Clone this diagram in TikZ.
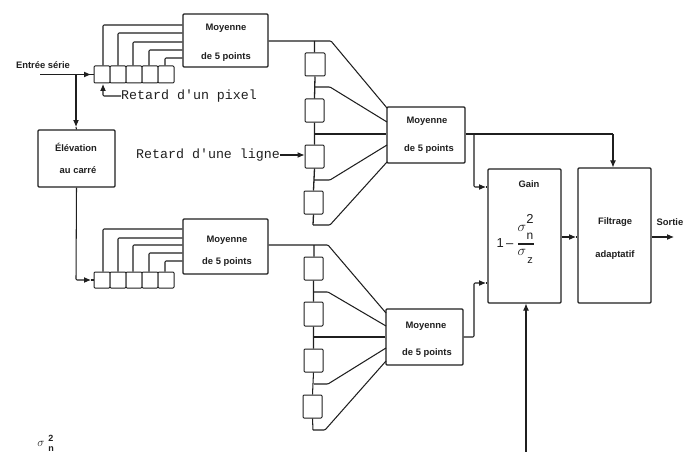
\documentclass[tikz,border=0pt]{standalone}
\usepackage{fontspec}
\setmainfont{Liberation Sans}
\setmonofont{Liberation Mono}
\usetikzlibrary{arrows.meta}
\tikzset{
  ln/.style={draw=black!88,line width=1.05pt,rounded corners=1pt},
  blk/.style={draw=black!88,line width=1.1pt,rounded corners=1pt,fill=white,inner sep=0pt},
  cell/.style={blk,line width=1pt},
  lab/.style={font=\bfseries\fontsize{9.4}{10}\selectfont,text=black!88,inner sep=0pt},
  typ/.style={font=\ttfamily\fontsize{13.3}{14}\selectfont,text=black!88,inner sep=0pt,anchor=west},
  frm/.style={inner sep=0pt,text=black!88},
  tip/.style={-{Latex[length=7pt,width=6pt]}}
}
\begin{document}
\begin{tikzpicture}[x=1pt,y=-1pt]
\useasboundingbox (0,0) rectangle (694,452);
% main blocks
\node[blk,minimum width=85pt,minimum height=53pt] (m1) at (225.5,40.5) {};
\node[blk,minimum width=85pt,minimum height=55pt] (m2) at (225.5,246.5) {};
\node[blk,minimum width=78pt,minimum height=56pt] (m3) at (426,135) {};
\node[blk,minimum width=77pt,minimum height=56pt] (m4) at (424.5,337) {};
\node[blk,minimum width=77pt,minimum height=57pt] (el) at (76.5,158.5) {};
\node[blk,minimum width=73pt,minimum height=134pt] (ga) at (524.5,236) {};
\node[blk,minimum width=73pt,minimum height=135pt] (fi) at (614.5,235.5) {};
% texts
\node[lab] (tm1a) at (226,28) {Moyenne};
\node[lab] (tm1b) at (226,57) {de 5 points};
\node[lab] (tm2a) at (227,240) {Moyenne};
\node[lab] (tm2b) at (227,262) {de 5 points};
\node[lab] (tm3a) at (427,121) {Moyenne};
\node[lab] (tm3b) at (429,149) {de 5 points};
\node[lab] (tm4a) at (426,326) {Moyenne};
\node[lab] (tm4b) at (427,353) {de 5 points};
\node[lab] (tel1) at (76,147) {Élévation};
\node[lab] (tel2) at (78,170) {au carré};
\node[lab] (tga) at (529,184) {Gain};
\node[lab] (tfi1) at (615,222) {Filtrage};
\node[lab] (tfi2) at (615,255) {adaptatif};
\node[lab] (tso) at (670,222) {Sortie};
\node[lab] (ten) at (43,65) {Entrée série};
\node[frm,font=\fontsize{13}{14}\selectfont] (f1) at (505,243) {1\,–};
\node[frm,font=\fontsize{15}{16}\selectfont] (f2) at (522,228) {$\sigma$};
\node[frm,font=\fontsize{13}{14}\selectfont] (f3) at (530,219) {2};
\node[frm,font=\fontsize{12}{14}\selectfont] (f4) at (530,236) {n};
\node[frm,font=\fontsize{15}{16}\selectfont] (f5) at (522,252) {$\sigma$};
\node[frm,font=\fontsize{11}{14}\selectfont] (f6) at (530,261) {z};
\coordinate (fbL) at (518,244);\coordinate (fbR) at (534,244);
\draw[ln] (fbL) -- (fbR);
\node[frm,font=\fontsize{12}{12}\selectfont] (s1) at (41,444) {$\sigma$};
\node[frm,font=\bfseries\fontsize{9}{9}\selectfont] (s2) at (51,438) {2};
\node[frm,font=\bfseries\fontsize{9}{9}\selectfont] (s3) at (51,449) {n};
% delay registers
\foreach \n/\xc in {a/102,b/118,c/134,d/150,e/166}{
  \node[cell,minimum width=16pt,minimum height=17pt] (t\n) at (\xc,74.5) {};
  \node[cell,minimum width=16pt,minimum height=16pt] (u\n) at (\xc,280) {};
}
% taps
\draw[ln] (ta.north) ++(1,0) |- (m1.west|-0,25);
\draw[ln] (tb.north) |- (m1.west|-0,33);
\draw[ln] (tc.north) ++(-1,0) |- (m1.west|-0,42);
\draw[ln] (td.north) ++(-1,0) |- (m1.west|-0,50);
\draw[ln] (te.north) ++(-1,0) |- (m1.west|-0,58);
\draw[ln] (ua.north) ++(1,0) |- (m2.west|-0,229);
\draw[ln] (ub.north) |- (m2.west|-0,238);
\draw[ln] (uc.north) ++(-1,0) |- (m2.west|-0,245);
\draw[ln] (ud.north) ++(-1,0) |- (m2.west|-0,253);
\draw[ln] (ue.north) ++(-1,0) |- (m2.west|-0,261);
% input
\coordinate (in) at (40,74.5);
\coordinate (jn) at (76,74.5);
\coordinate (ih) at (91,74.5);
\coordinate (eh) at (76,127);
\draw[ln] (in) -- (ih);
\draw[ln] (ih) -- (ta.west);
\draw[ln,tip] (in) -- (ih);
\draw[ln,tip] (jn) -- (eh);
\draw[ln] (eh) -- (el.north);
\coordinate (el2) at (76,280);
\coordinate (uh) at (91,280);
\draw[ln,tip] (el.south) -- (el2) -- (uh);
\draw[ln] (uh) -- (ua.west);
% retard labels
\node[typ] (rp) at (121,96) {Retard d'un pixel};
\coordinate (rpc) at (103,96);
\coordinate (rpt) at (103,84);
\draw[ln,tip] (rp.west) -- (rpc) -- (rpt);
\node[typ] (rl) at (136,155) {Retard d'une ligne};
% column top
\node[cell,minimum width=20pt,minimum height=23pt] (c1) at (315,64.5) {};
\node[cell,minimum width=19pt,minimum height=23pt] (c2) at (314.5,110.5) {};
\node[cell,minimum width=19pt,minimum height=23pt] (c3) at (314.5,156.5) {};
\node[cell,minimum width=19pt,minimum height=23pt] (c4) at (313.5,202.5) {};
\coordinate (j0) at (314.5,41);\coordinate (b0) at (331,41);
\coordinate (j1) at (314.5,87);\coordinate (b1) at (330,87);
\coordinate (j2) at (314.5,134);
\coordinate (j3) at (314,180);\coordinate (b3) at (330,180);
\coordinate (j4) at (313,225);\coordinate (b4) at (330,225);
\draw[ln,line width=1.3pt] (j0) -- (j0|-c1.north) (c1.south) -- (c2.north) (c2.south) -- (c3.north) (c3.south) -- (c4.north) (c4.south) -- (j4);
\draw[ln] (m1.east|-j0) -- (b0) -- (387,108);
\draw[ln] (j1) -- (b1) -- (387,122);
\draw[ln] (j2) -- (m3.west|-j2);
\draw[ln] (j3) -- (b3) -- (387,145);
\draw[ln] (j4) -- (b4) -- (387,162);
\draw[ln,tip] (rl.east) -- (c3.west|-rl.east);
% column bottom
\node[cell,minimum width=19pt,minimum height=23pt] (d1) at (313.5,268.5) {};
\node[cell,minimum width=19pt,minimum height=24pt] (d2) at (313.5,314) {};
\node[cell,minimum width=19pt,minimum height=23pt] (d3) at (313.5,360.5) {};
\node[cell,minimum width=19pt,minimum height=23pt] (d4) at (312.5,406.5) {};
\coordinate (k0) at (314,245);\coordinate (e0) at (328,245);
\coordinate (k1) at (314,292);\coordinate (e1) at (328,292);
\coordinate (k2) at (314,337);
\coordinate (k3) at (314,384);\coordinate (e3) at (328,384);
\coordinate (k4) at (313,430);\coordinate (e4) at (325,430);
\draw[ln] (k0) -- (k0|-d1.north) (d1.south) -- (d2.north) (d2.south) -- (d3.north) (d3.south) -- (d4.north) (d4.south) -- (k4);
\draw[ln] (m2.east|-k0) -- (e0) -- (386,313);
\draw[ln] (k1) -- (e1) -- (386,326);
\draw[ln] (k2) -- (m4.west|-k2);
\draw[ln] (k3) -- (e3) -- (386,348);
\draw[ln] (k4) -- (e4) -- (386,361);
% right part
\coordinate (r1) at (474,134);\coordinate (r2) at (474,187);\coordinate (r3) at (613,134);
\coordinate (r2h) at (486,187);
\draw[ln] (m3.east|-r1) -- (r3);
\draw[ln,tip] (r3) -- (r3|-fi.north);
\draw[ln,tip] (r1) -- (r2) -- (r2h);
\draw[ln] (r2h) -- (ga.west|-r2);
\coordinate (r4) at (474,337);\coordinate (r5) at (474,283);
\coordinate (r5h) at (486,283);
\draw[ln,tip] (m4.east|-r4) -- (r4) -- (r5) -- (r5h);
\draw[ln] (r5h) -- (ga.west|-r5);
\coordinate (gh) at (576,237);
\draw[ln,tip] (ga.east|-gh) -- (gh);
\draw[ln] (gh) -- (fi.west|-gh);
\coordinate (so) at (674,237);
\draw[ln,tip] (fi.east|-so) -- (so);
\coordinate (bt) at (526,452);
\draw[ln,tip] (bt) -- (bt|-ga.south);
\end{tikzpicture}
\end{document}
